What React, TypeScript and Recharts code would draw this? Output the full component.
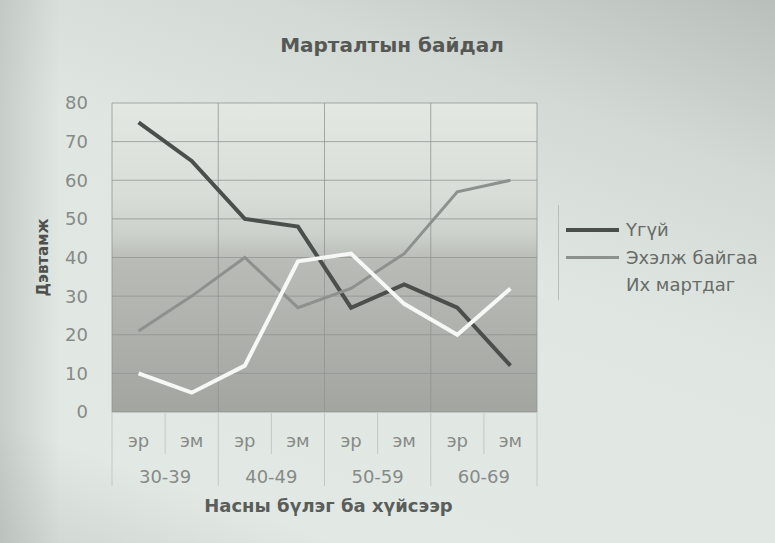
import { LineChart, Line, XAxis, YAxis, CartesianGrid, Legend } from "recharts";

const sexes = ["эр", "эм", "эр", "эм", "эр", "эм", "эр", "эм"];
const ageGroups = ["30-39", "40-49", "50-59", "60-69"];
const ugui = [75, 65, 50, 48, 27, 33, 27, 12];
const ekhelj = [21, 30, 40, 27, 32, 41, 57, 60];
const ikhMartdag = [10, 5, 12, 39, 41, 28, 20, 32];
const yTicks = [0, 10, 20, 30, 40, 50, 60, 70, 80];

const series = [
  { key: "ugui", name: "Үгүй", color: "#4b4f4b", width: 4 },
  { key: "ekhelj", name: "Эхэлж байгаа", color: "#8d918d", width: 3 },
  { key: "ikh", name: "Их мартдаг", color: "#f6f8f5", width: 4 },
];

const data = sexes.map((sex, i) => ({
  key: `${ageGroups[Math.floor(i / 2)]}-${sex}`,
  sex,
  age: ageGroups[Math.floor(i / 2)],
  ugui: ugui[i],
  ekhelj: ekhelj[i],
  ikh: ikhMartdag[i],
}));

const W = 775;
const H = 543;
const PLOT_LEFT = 112;
const PLOT_RIGHT = 537;
const PLOT_TOP = 103;
const PLOT_BOTTOM = 412;
const BAND = (PLOT_RIGHT - PLOT_LEFT) / sexes.length;
const FONT = "'DejaVu Sans', Arial, sans-serif";
const TICK_COLOR = "#878a87";
const SEP_COLOR = "#c3c8c3";

const XTick = (props: any) => {
  const { x, index } = props;
  const row = data[index];
  const left = x - BAND / 2;
  const groupStart = index % 2 === 0;
  const last = index === data.length - 1;
  return (
    <g>
      <line
        x1={left}
        x2={left}
        y1={PLOT_BOTTOM}
        y2={groupStart ? 486 : 454}
        stroke={SEP_COLOR}
      />
      {last && (
        <line
          x1={x + BAND / 2}
          x2={x + BAND / 2}
          y1={PLOT_BOTTOM}
          y2={486}
          stroke={SEP_COLOR}
        />
      )}
      <text
        x={x}
        y={447}
        textAnchor="middle"
        fontSize={18}
        fill={TICK_COLOR}
        fontFamily={FONT}
      >
        {row.sex}
      </text>
      {groupStart && (
        <text
          x={x + BAND / 2}
          y={483}
          textAnchor="middle"
          fontSize={18}
          fill={TICK_COLOR}
          fontFamily={FONT}
        >
          {row.age}
        </text>
      )}
    </g>
  );
};

const LegendContent = () => (
  <div
    style={{
      borderLeft: "1px solid #b9beb9",
      height: 95,
      paddingTop: 11,
      boxSizing: "border-box",
      fontFamily: FONT,
    }}
  >
    {series.map((s) => (
      <div
        key={s.key}
        style={{ display: "flex", alignItems: "center", height: 27.5 }}
      >
        <div
          style={{
            marginLeft: 7,
            width: 53,
            height: s.width,
            background: s.key === "ikh" ? "transparent" : s.color,
          }}
        />
        <span style={{ marginLeft: 7, fontSize: 18, color: "#686b68" }}>
          {s.name}
        </span>
      </div>
    ))}
  </div>
);

export default function App() {
  return (
    <div
      style={{
        position: "absolute",
        left: 0,
        top: 0,
        width: W,
        height: H,
        overflow: "hidden",
        background:
          "linear-gradient(200deg, #b9bfba 0%, #d3d9d4 22%, #e0e7e2 45%, #e2e9e4 85%, #cfd5d0 100%)",
      }}
    >
      <div
        style={{
          position: "absolute",
          left: 0,
          top: 0,
          width: 60,
          height: H,
          background:
            "linear-gradient(90deg, rgba(150,156,151,0.35), rgba(150,156,151,0))",
        }}
      />
      <div
        style={{
          position: "absolute",
          top: 33,
          left: 0,
          width: 784,
          textAlign: "center",
          fontFamily: FONT,
          fontWeight: "bold",
          fontSize: 20,
          color: "#555855",
        }}
      >
        Марталтын байдал
      </div>
      <LineChart
        width={W}
        height={H}
        data={data}
        margin={{ top: PLOT_TOP, right: W - PLOT_RIGHT, bottom: 0, left: 0 }}
        style={{ position: "absolute", left: 0, top: 0 }}
      >
        <defs>
          <linearGradient id="plotBg" x1="0" y1="0" x2="0" y2="1">
            <stop offset="0%" stopColor="#e3e8e3" />
            <stop offset="30%" stopColor="#d8ddd8" />
            <stop offset="43%" stopColor="#cbd0cb" />
            <stop offset="51%" stopColor="#b8bbb6" />
            <stop offset="100%" stopColor="#a2a5a0" />
          </linearGradient>
        </defs>
        <CartesianGrid
          fill="url(#plotBg)"
          stroke="#8f938f"
          strokeOpacity={0.75}
          verticalPoints={[
            PLOT_LEFT,
            PLOT_LEFT + 2 * BAND,
            PLOT_LEFT + 4 * BAND,
            PLOT_LEFT + 6 * BAND,
            PLOT_RIGHT,
          ]}
        />
        <XAxis
          dataKey="key"
          height={H - PLOT_BOTTOM}
          axisLine={false}
          tickLine={false}
          interval={0}
          padding={{ left: BAND / 2, right: BAND / 2 }}
          tick={<XTick />}
          label={{
            value: "Насны бүлэг ба хүйсээр",
            position: "insideBottom",
            offset: 31,
            dx: 4,
            style: {
              fontFamily: FONT,
              fontWeight: "bold",
              fontSize: 18,
              fill: "#5a5d5a",
            },
          }}
        />
        <YAxis
          width={PLOT_LEFT}
          domain={[0, 80]}
          ticks={yTicks}
          axisLine={false}
          tickLine={false}
          tickMargin={18}
          tick={{ fontSize: 18, fill: TICK_COLOR, fontFamily: FONT }}
          label={{
            value: "Дэвтамж",
            angle: -90,
            position: "insideLeft",
            dx: 38,
            style: {
              fontFamily: FONT,
              fontWeight: "bold",
              fontSize: 15,
              fill: "#4e514e",
              textAnchor: "middle",
            },
          }}
        />
        <Legend
          layout="vertical"
          align="center"
          verticalAlign="middle"
          wrapperStyle={{ left: 558, top: 205, width: 217 }}
          content={<LegendContent />}
        />
        {series.map((s) => (
          <Line
            key={s.key}
            type="linear"
            dataKey={s.key}
            name={s.name}
            stroke={s.color}
            strokeWidth={s.width}
            dot={false}
            activeDot={false}
            isAnimationActive={false}
          />
        ))}
      </LineChart>
    </div>
  );
}
